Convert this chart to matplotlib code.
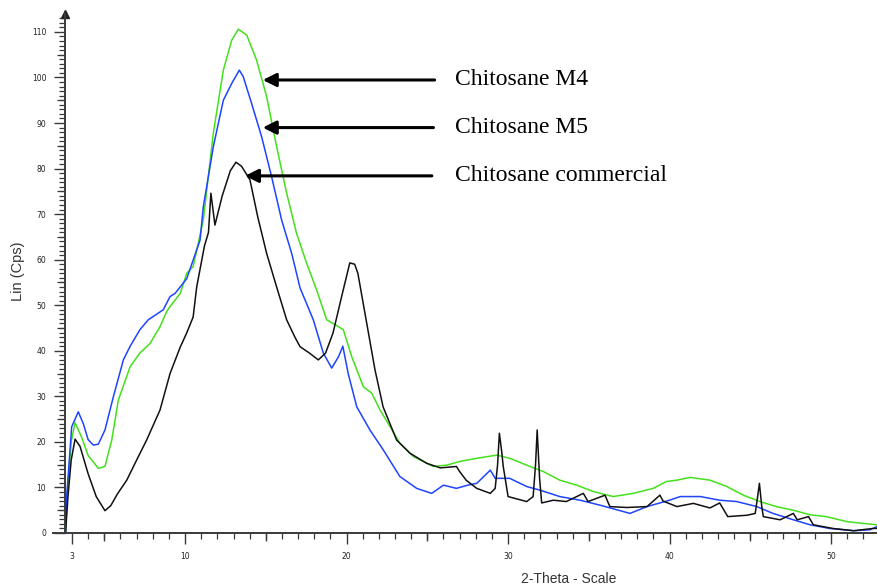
import matplotlib
matplotlib.use("Agg")
import matplotlib.pyplot as plt
from matplotlib.lines import Line2D

# ---- data ----
black_x = [2.6, 2.75, 2.95, 3.19, 3.5, 4.0, 4.5, 5.04, 5.4, 5.8, 6.39, 7.0, 7.62, 8.45, 9.07, 9.7,
           10.1, 10.5, 10.72, 11.2, 11.45, 11.6, 11.85, 12.3, 12.8, 13.15, 13.5, 14.02, 14.5, 15.05,
           15.67, 16.29, 16.8, 17.12, 17.7, 18.25, 18.7, 19.16, 19.7, 20.2, 20.5, 20.7, 21.25, 21.76,
           22.26, 23.1, 23.93, 24.96, 25.8, 26.8, 27.0, 27.4, 28.06, 28.9, 29.2, 29.35, 29.46, 29.6,
           29.7, 30.0, 31.15, 31.55, 31.7, 31.8, 31.95, 32.08, 32.8, 33.6, 34.66, 34.95, 36.0, 36.3,
           37.35, 38.6, 39.4, 39.6, 40.45, 41.47, 42.5, 43.1, 43.6, 44.8, 45.3, 45.45, 45.56, 45.7,
           45.8, 46.84, 47.66, 47.9, 48.6, 48.9, 50.1, 51.4, 52.6, 52.84]
black_y = [0, 8, 16, 20.6, 19, 13, 8, 4.9, 6, 8.5, 11.6, 16, 20.4, 27, 35, 40.8,
           43.9, 47.4, 54, 63, 66, 74.6, 67.6, 74, 79.5, 81.4, 80.5, 77.5, 69.4, 61.4,
           54, 46.8, 43, 40.9, 39.5, 38, 39.5, 43.9, 52, 59.3, 59, 57, 46, 35.8,
           27.7, 20.4, 17.5, 15.3, 14.3, 14.6, 13.5, 11.6, 9.8, 8.7, 9.8, 15, 21.9, 18,
           14.6, 8.0, 6.9, 8.0, 15, 22.6, 12, 6.6, 7.2, 6.9, 8.7, 6.9, 8.3, 5.8,
           5.6, 5.8, 8.3, 7.0, 5.8, 6.5, 5.5, 6.6, 3.6, 3.9, 4.3, 8, 10.9, 6,
           3.6, 2.9, 4.3, 2.9, 3.6, 1.8, 1.0, 0.5, 1.0, 1.0]

blue_x = [2.6, 2.67, 2.98, 3.39, 3.7, 4.0, 4.32, 4.63, 5.04, 5.56, 6.18, 6.6, 7.2, 7.72, 8.65, 9.07,
          9.38, 10.1, 10.93, 11.13, 11.75, 12.37, 12.89, 13.36, 13.6, 14.12, 14.74, 15.36, 15.98,
          16.6, 17.12, 17.94, 18.56, 19.08, 19.5, 19.77, 20.1, 20.63, 21.45, 22.28, 23.3, 24.34,
          25.27, 26.0, 26.8, 27.5, 28.06, 28.9, 29.2, 30.1, 31.15, 31.98, 33.2, 34.46, 35.7, 37.55,
          38.6, 40.0, 40.65, 41.9, 43.1, 44.16, 45.4, 46.4, 47.66, 48.7, 49.9, 51.4, 52.4, 52.84]
blue_y = [0, 8, 23.3, 26.6, 24, 20.5, 19.3, 19.5, 22.6, 29.9, 38, 41, 44.6, 46.8, 49, 51.9,
          52.6, 55.8, 64.3, 71.6, 84.8, 95, 98.7, 101.6, 100.2, 94.3, 87, 78.2, 68.7,
          61.4, 53.8, 46.8, 39.5, 36.2, 38.7, 41, 35, 27.7, 22.6, 18.2, 12.4, 9.8,
          8.7, 10.5, 9.8, 10.5, 10.9, 13.8, 12.0, 12.0, 10.2, 9.4, 8.0, 7.2, 6.1, 4.3,
          5.8, 7.2, 8.0, 8.0, 7.2, 6.9, 5.8, 4.3, 2.9, 1.8, 1.0, 0.5, 0.7, 1.4]

green_x = [2.6, 2.7, 2.95, 3.19, 3.6, 4.0, 4.63, 5.04, 5.46, 5.87, 6.6, 7.2, 7.83, 8.45, 8.86, 9.07,
           9.7, 10.1, 10.5, 11.13, 11.75, 12.37, 12.89, 13.3, 13.82, 14.43, 15.05, 15.67, 16.29,
           16.9, 17.5, 18.15, 18.77, 19.5, 19.8, 20.32, 21.04, 21.56, 22.07, 22.7, 23.3, 24.13,
           25.37, 26.2, 27.0, 28.06, 29.3, 30.1, 31.15, 32.18, 33.2, 34.25, 35.28, 36.5, 37.75,
           38.99, 39.8, 40.45, 41.27, 42.5, 43.54, 44.57, 45.6, 46.6, 47.66, 48.7, 49.7, 50.97,
           52.0, 52.84]
green_y = [0, 8, 20, 24.2, 21, 17, 14.2, 14.6, 20.4, 29.2, 36.5, 39.5, 41.6, 45.3, 48.6, 49.7,
           52.6, 57, 58.5, 68.7, 87.8, 101.6, 108.2, 110.6, 109.3, 103.8, 95.8, 84.8, 74.6,
           65.8, 59.5, 53.3, 46.8, 45.3, 44.6, 38.7, 32.1, 30.7, 27, 23.3, 19.7, 16.8,
           14.6, 14.9, 15.7, 16.4, 17.1, 16.4, 14.9, 13.5, 11.6, 10.5, 9.1, 8.0, 8.7,
           9.8, 11.3, 11.6, 12.2, 11.6, 10.2, 8.3, 6.9, 5.8, 5.0, 4.0, 3.6, 2.5,
           2.1, 1.8]

labels = ["Chitosane M4", "Chitosane M5", "Chitosane commercial"]
arrow_tip_x = [14.81, 14.81, 13.71]
arrow_tail_x = [25.45, 25.38, 25.28]
arrow_y = [99.45, 89.0, 78.4]

xticks = [3, 10, 20, 30, 40, 50]
yticks = list(range(0, 111, 10))

# ---- figure ----
W, H = 877, 585
fig = plt.figure(figsize=(W / 100, H / 100), dpi=100)
ax = fig.add_axes([65 / W, 52 / H, 812 / W, 519.3 / H])

axis_col = "#3a3a3a"
ax.plot(green_x, green_y, color="#44e01c", lw=1.1)
ax.plot(blue_x, blue_y, color="#1f44ff", lw=1.1)
ax.plot(black_x, black_y, color="#111111", lw=1.1)

ax.set_xlim(2.567, 52.84)
ax.set_ylim(0, 114)

for s in ["top", "right"]:
    ax.spines[s].set_visible(False)
for s in ["left", "bottom"]:
    ax.spines[s].set_color(axis_col)
    ax.spines[s].set_linewidth(1.4)

ax.set_xticks(xticks)
ax.set_xticklabels([str(v) for v in xticks])
ax.set_xticks([v for v in range(3, 53) if v not in xticks], minor=True)
ax.set_yticks(yticks)
ax.set_yticklabels([str(v) for v in yticks])
ax.set_yticks([v for v in range(0, 114) if v % 10 != 0], minor=True)

ax.tick_params(axis="both", which="major", length=8, width=1.0, color=axis_col,
               labelsize=5.5, labelcolor="#222222", pad=5.5)
ax.tick_params(axis="both", which="minor", length=4, width=0.9, color=axis_col)

# medium ticks at fives
secx = ax.secondary_xaxis("bottom")
secx.set_xticks([5, 15, 25, 35, 45])
secx.tick_params(length=6, width=1.0, color=axis_col, labelbottom=False)
secx.spines["bottom"].set_visible(False)
secy = ax.secondary_yaxis("left")
secy.set_yticks(list(range(5, 114, 10)))
secy.tick_params(length=6, width=0.9, color=axis_col, labelleft=False)
secy.spines["left"].set_visible(False)

# extension of x axis to the left, arrow at top of y-axis
fig.add_artist(Line2D([53 / W, 65 / W], [52 / H, 52 / H], color=axis_col, lw=1.4))
ax.plot([0], [1], marker="^", color="#222222", markersize=6, transform=ax.transAxes,
        clip_on=False)

# axis labels
fig.text(18 / W, 1 - 271 / H, "Lin (Cps)", rotation=90, ha="center", va="center",
         fontsize=10.5, family="Liberation Sans", color="#333333")
fig.text(569 / W, 1 - 579 / H, "2-Theta - Scale", ha="center", va="center",
         fontsize=10, family="Liberation Sans", color="#333333")

# annotations
for lab, tx, tl, yy in zip(labels, arrow_tip_x, arrow_tail_x, arrow_y):
    ax.annotate("", xy=(tx, yy), xytext=(tl, yy),
                arrowprops=dict(arrowstyle="-|>", color="black", lw=2.2,
                                mutation_scale=20, shrinkA=0, shrinkB=0))
    ax.text(26.7, yy, lab, ha="left", va="center", fontsize=17,
            family="Liberation Serif", color="black")

fig.savefig("out.png", dpi=100)
